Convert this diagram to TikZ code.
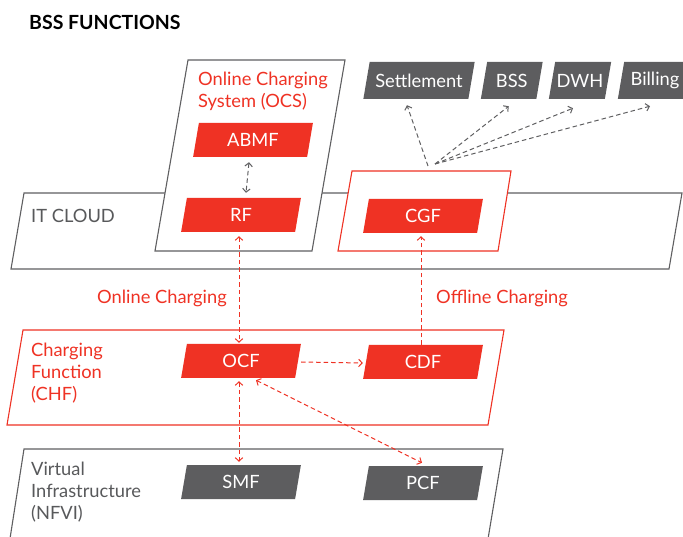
\documentclass[tikz,border=0pt]{standalone}
\usepackage{fontspec}
\setmainfont{Lato}
\usetikzlibrary{calc,arrows.meta}
\definecolor{cred}{RGB}{239,50,36}
\definecolor{cboxgray}{RGB}{93,93,95}
\definecolor{clinegray}{RGB}{95,95,97}
\definecolor{ctextgray}{RGB}{88,89,91}
\newcommand{\pbox}[7]{%
  \fill[#1] ({#3-#5/2+0.085*#6},{#4-#6/2}) -- ({#3+#5/2+0.085*#6},{#4-#6/2})
    -- ({#3+#5/2-0.085*#6},{#4+#6/2}) -- ({#3-#5/2-0.085*#6},{#4+#6/2}) -- cycle;
  \node[boxtext, minimum width=#5pt, minimum height=#6pt] (#2) at (#3,#4) {#7};
}
\begin{document}
\begin{tikzpicture}[x=1pt,y=-1pt,
  txt/.style={font=\fontsize{18.3}{22}\selectfont, inner sep=0pt, anchor=base west, align=left},
  boxtext/.style={font=\fontsize{18.3}{22}\selectfont, text=white, inner sep=0pt},
  grayframe/.style={draw=clinegray, line width=1.1pt, fill=white},
  redframe/.style={draw=cred, line width=1.1pt, fill=white},
  conn/.style={dash pattern=on 4.5pt off 3pt, line width=1pt, >={Straight Barb[length=3.5pt,width=7.5pt]}},
  gconn/.style={conn, draw=clinegray},
  rconn/.style={conn, draw=cred}
]
\useasboundingbox (0,0) rectangle (683,537);
\clip (0,0) rectangle (683,537);

% title
\node[txt, font=\fontsize{19.5}{22}\selectfont\bfseries] (title) at (29,30) {BSS FUNCTIONS};

% IT cloud band
\draw[grayframe] (24,193) -- (682,193) -- (669,269) -- (11,269) -- cycle;
\node[txt, text=ctextgray] (itcloud) at (31,223) {IT CLOUD};

% OCS frame
\draw[grayframe] (188,60) -- (345,60) -- (312,251) -- (155,251) -- cycle;
\node[txt, text=cred] (ocslabel) at (198,108) {Online Charging\\System (OCS)};

% CGF frame
\draw[redframe] (352,171) -- (511,171) -- (498,251) -- (338,251) -- cycle;

% CHF frame
\draw[redframe] (23,330) -- (504,330) -- (488,425) -- (7,425) -- cycle;
\node[txt, text=cred] (chflabel) at (31,400) {Charging\\Function\\(CHF)};

% NFVI frame
\draw[grayframe] (9,545) -- (24,449) -- (503,449) -- (487,545);
\node[txt, text=ctextgray] (nfvilabel) at (31,519) {Virtual\\Infrastructure\\(NFVI)};

% red boxes
\pbox{cred}{ABMF}{253}{140}{114}{34}{ABMF}
\pbox{cred}{RF}{241}{215}{114}{34}{RF}
\pbox{cred}{CGF}{423}{216}{114}{34}{CGF}
\pbox{cred}{OCF}{241}{361}{114}{34}{OCF}
\pbox{cred}{CDF}{423}{362}{114}{34}{CDF}
% gray boxes
\pbox{cboxgray}{SMF}{241}{482}{114}{34}{SMF}
\pbox{cboxgray}{PCF}{423}{483}{114}{34}{PCF}
\pbox{cboxgray}{settle}{419}{80.5}{105}{37}{Settlement}
\pbox{cboxgray}{bss}{511.75}{80.5}{55.5}{37}{BSS}
\pbox{cboxgray}{dwh}{580}{80.5}{56}{37}{DWH}
\pbox{cboxgray}{billing}{657}{80.5}{72}{37}{\hspace*{-4pt}Billing}

% middle labels
\node[txt, text=cred] (onlinelbl) at (97,304) {Online Charging};
\node[txt, text=cred] (offlinelbl) at (436,304) {Offline Charging};

% hub above CGF frame
\coordinate (hubA) at (428,166);
\coordinate (hubB) at (435,164);

% connectors
\draw[gconn,->] (hubA) -- ($(settle.south)+(-12,6)$);
\draw[gconn,->] (hubB) -- ($(bss.south)+(-3,7)$);
\draw[gconn,->] (hubB) -- ($(dwh.south)+(-7,9)$);
\draw[gconn,->] (hubB) -- ($(billing.south)+(-7,7)$);
\draw[gconn,<->] ($(ABMF.south)+(-4,5)$) -- ($(RF.north)+(5,-5)$);
\draw[rconn,<->] ($(RF.south)+(-2,4)$) -- ($(OCF.north)+(-2,-1)$);
\draw[rconn,->] ($(CDF.north)+(-2,0)$) -- ($(CGF.south)+(-2,3)$);
\draw[rconn,->] ($(OCF.east)+(3,1)$) -- ($(CDF.west)+(-3,1)$);
\draw[rconn,<->] ($(OCF.south)+(-2,3)$) -- ($(SMF.north)+(-2,-3)$);
\draw[rconn,<->] ($(OCF.south)+(15,2)$) -- ($(PCF.north)+(-1,-3)$);
\end{tikzpicture}
\end{document}
